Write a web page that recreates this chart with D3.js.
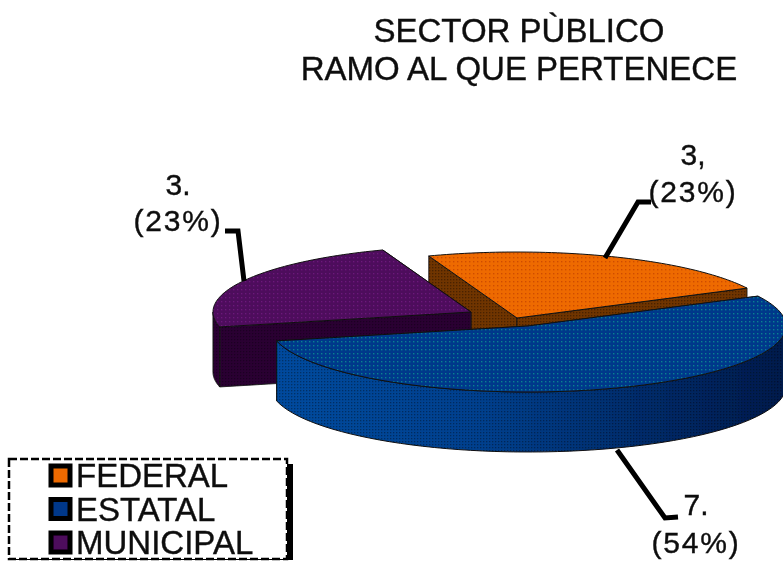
<!DOCTYPE html>
<html>
<head>
<meta charset="utf-8">
<script src="https://d3js.org/d3.v7.min.js"></script>
<style>
  html, body { margin: 0; padding: 0; background: #fff; }
  text { font-family: 'Liberation Sans', Arial, sans-serif; fill: #111; stroke: #111; stroke-width: 0.4; }
</style>
</head>
<body>
<script>
var categories = ['FEDERAL', 'ESTATAL', 'MUNICIPAL'];
var values = [3, 7, 3];
var valueLabels = ['3,', '7.', '3.'];
var percentLabels = ['(23%)', '(54%)', '(23%)'];
var titleLines = ['SECTOR PÙBLICO', 'RAMO AL QUE PERTENECE'];

var width = 783, height = 562;
var rx = 258, ry = 66, depth = 60;
var topColor = ['#ee6a00', '#00398a', '#4d0a5c'];
var dotColor = ['#cf4c00', '#0f7f90', '#6a1a78'];
var wallColor = ['#6f3500', '#002a66', '#2a0533'];

// apex of each exploded slice, drawing order is federal, municipal, estatal
var apex = [[517, 318], [528, 326], [471, 312]];
var drawOrder = [0, 2, 1];

var leaders = [
  [[605, 258], [638, 202], [651, 202]],
  [[617, 450], [665, 518], [678, 517]],
  [[244, 281], [238, 231], [225, 231]]
];
var labelPos = [[693, 165, 202], [696, 515, 553], [178, 195, 231]];

var svg = d3.select('body').append('svg')
  .attr('width', width).attr('height', height)
  .style('display', 'block');

var defs = svg.append('defs');
defs.append('filter').attr('id', 'soft')
  .append('feGaussianBlur').attr('stdDeviation', 0.55);

categories.forEach(function(c, i) {
  var p = defs.append('pattern').attr('id', 'dots' + i)
    .attr('width', 4).attr('height', 4).attr('patternUnits', 'userSpaceOnUse');
  p.append('rect').attr('width', 4).attr('height', 4).attr('fill', topColor[i]);
  p.append('rect').attr('x', 1).attr('y', 1).attr('width', 1.4).attr('height', 1.4).attr('fill', dotColor[i]);
});

// dither laid over the walls
var dither = defs.append('pattern').attr('id', 'dither')
  .attr('width', 3).attr('height', 3).attr('patternUnits', 'userSpaceOnUse');
dither.append('rect').attr('width', 1.3).attr('height', 1.3).attr('fill', '#000').attr('opacity', 0.35);

var sideGrad = defs.append('linearGradient').attr('id', 'sideGrad')
  .attr('gradientUnits', 'userSpaceOnUse')
  .attr('x1', 275).attr('x2', 783).attr('y1', 0).attr('y2', 0);
sideGrad.append('stop').attr('offset', '0%').attr('stop-color', '#004a9e');
sideGrad.append('stop').attr('offset', '40%').attr('stop-color', '#00408e');
sideGrad.append('stop').attr('offset', '100%').attr('stop-color', '#001a4c');

var pie = d3.pie().sort(null)
  .startAngle(-20 * Math.PI / 180)
  .endAngle(340 * Math.PI / 180);
var arcs = pie(values);

var line = d3.line();

function rim(a, c, dz) {
  return [c[0] + rx * Math.sin(a), c[1] - ry * Math.cos(a) + dz];
}
function arcPts(a0, a1, c, dz) {
  var n = 60, pts = [];
  for (var k = 0; k <= n; k++) pts.push(rim(a0 + (a1 - a0) * k / n, c, dz));
  return pts;
}

var chart = svg.append('g').attr('filter', 'url(#soft)');

drawOrder.forEach(function(i) {
  var d = arcs[i], c = apex[i];
  var g = chart.append('g');

  // radial walls, back one first
  var ends = [d.startAngle, d.endAngle].sort(function(a, b) {
    return rim(a, c, 0)[1] - rim(b, c, 0)[1];
  });
  ends.forEach(function(a) {
    var e = rim(a, c, 0);
    var wallPath = line([c, e, [e[0], e[1] + depth], [c[0], c[1] + depth]]) + 'Z';
    g.append('path').attr('d', wallPath)
      .attr('fill', wallColor[i]).attr('stroke', '#111').attr('stroke-width', 0.8);
    g.append('path').attr('d', wallPath).attr('fill', 'url(#dither)');
  });

  // outer wall, only the front half of the ellipse shows
  var a0 = Math.max(d.startAngle, Math.PI / 2);
  var a1 = Math.min(d.endAngle, 3 * Math.PI / 2);
  if (a1 > a0) {
    var outer = line(arcPts(a0, a1, c, 0).concat(arcPts(a1, a0, c, depth))) + 'Z';
    g.append('path').attr('d', outer)
      .attr('fill', i === 1 ? 'url(#sideGrad)' : wallColor[i])
      .attr('stroke', '#111').attr('stroke-width', 1);
    g.append('path').attr('d', outer).attr('fill', 'url(#dither)');
  }

  g.append('path')
    .attr('d', line([c].concat(arcPts(d.startAngle, d.endAngle, c, 0))) + 'Z')
    .attr('fill', 'url(#dots' + i + ')')
    .attr('stroke', '#111').attr('stroke-width', 1);
});

// leader lines
leaders.forEach(function(pts) {
  chart.append('path').attr('d', line(pts))
    .attr('fill', 'none').attr('stroke', '#000').attr('stroke-width', 5);
});

var textLayer = svg.append('g').attr('filter', 'url(#soft)');

textLayer.selectAll('text.title').data(titleLines).enter().append('text')
  .attr('class', 'title')
  .attr('x', 519)
  .attr('y', function(d, i) { return 42 + i * 38; })
  .attr('text-anchor', 'middle')
  .attr('font-size', 33)
  .text(function(d) { return d; });

categories.forEach(function(c, i) {
  var p = labelPos[i];
  textLayer.append('text').attr('x', p[0]).attr('y', p[1])
    .attr('text-anchor', 'middle').attr('font-size', 30).text(valueLabels[i]);
  textLayer.append('text').attr('x', p[0]).attr('y', p[2])
    .attr('text-anchor', 'middle').attr('font-size', 30)
    .attr('letter-spacing', 1.8).text(percentLabels[i]);
});

// legend
var legend = svg.append('g').attr('filter', 'url(#soft)');
legend.append('rect').attr('x', 12).attr('y', 464).attr('width', 281).attr('height', 96).attr('fill', '#000');
legend.append('rect').attr('x', 9).attr('y', 459).attr('width', 278).attr('height', 100)
  .attr('fill', '#fff').attr('stroke', '#000').attr('stroke-width', 2.5).attr('stroke-dasharray', '8,3');

var rowY = d3.scalePoint().domain(categories).range([475, 542]);
categories.forEach(function(c, i) {
  var y = rowY(c);
  legend.append('rect').attr('x', 51).attr('y', y - 9).attr('width', 19).attr('height', 19)
    .attr('fill', topColor[i]).attr('stroke', '#000').attr('stroke-width', 5);
  legend.append('text').attr('x', 76).attr('y', y + 12)
    .attr('font-size', 33).text(c);
});
</script>
</body>
</html>
